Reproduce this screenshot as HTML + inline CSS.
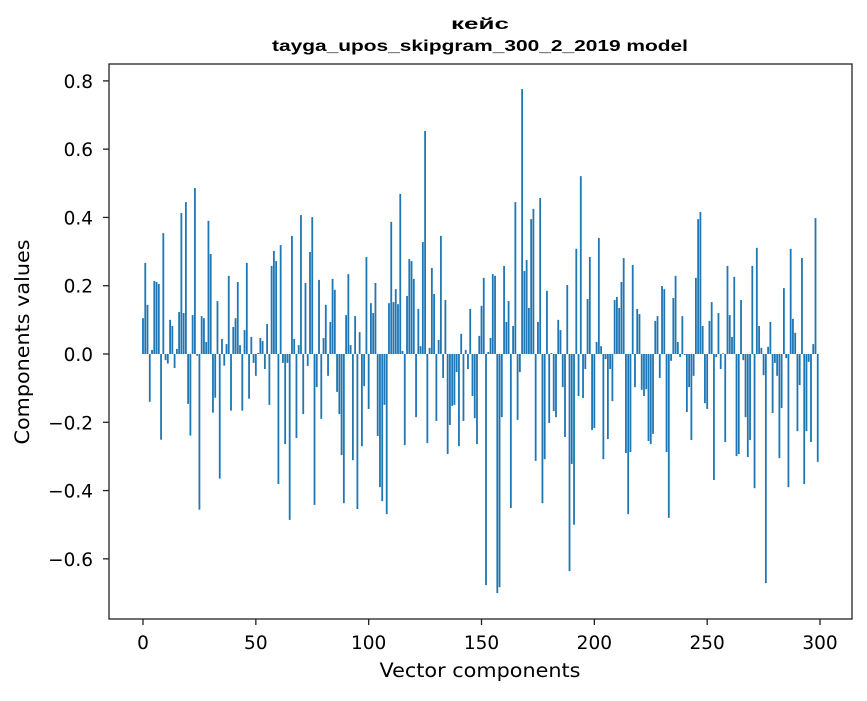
<!DOCTYPE html>
<html><head><meta charset="utf-8"><style>
body{margin:0;background:#fff;}
svg text{font-family:"DejaVu Sans","Liberation Sans",sans-serif;fill:#000;}
svg text.title{font-family:"Liberation Sans","DejaVu Sans",sans-serif;font-weight:bold;}
</style></head><body>
<svg id="chart" width="867" height="696" xmlns="http://www.w3.org/2000/svg">
<text class="title" x="480" y="29" font-size="16" text-anchor="middle" textLength="58" lengthAdjust="spacingAndGlyphs">кейс</text>
<text class="title" x="480" y="51" font-size="16" text-anchor="middle" textLength="416" lengthAdjust="spacingAndGlyphs">tayga_upos_skipgram_300_2_2019 model</text>
<g id="bars"></g>
<g id="axes"></g>
<text x="480" y="677" font-size="19.5" text-anchor="middle" textLength="201" lengthAdjust="spacingAndGlyphs">Vector components</text>
<text transform="translate(29,342) rotate(-90)" font-size="19.5" text-anchor="middle" textLength="205" lengthAdjust="spacingAndGlyphs">Components values</text>
</svg>
<script>
const values = [
0.105,0.267,0.144,-0.14,0.012,0.214,0.211,0.205,-0.251,0.354,
-0.018,-0.028,0.10,0.082,-0.041,0.015,0.123,0.413,0.12,0.445,
-0.146,-0.239,0.114,0.486,-0.005,-0.456,0.111,0.105,0.035,0.39,
0.293,-0.172,-0.128,0.155,-0.365,0.044,-0.034,0.029,0.229,-0.166,
0.079,0.105,0.211,0.026,-0.166,0.07,0.267,-0.131,0.05,-0.026,
-0.064,0.003,0.047,0.038,-0.044,0.088,-0.149,0.258,0.302,0.272,
-0.381,0.319,-0.026,-0.264,-0.026,-0.486,0.346,0.044,-0.246,0.026,
0.407,-0.176,0.208,-0.035,0.299,0.401,-0.442,-0.097,0.217,-0.19,
0.047,0.144,-0.064,0.094,0.22,0.188,-0.111,-0.176,-0.296,-0.437,
0.114,0.234,0.026,-0.311,0.111,-0.454,0.064,-0.27,-0.094,0.284,
-0.161,0.149,0.12,0.208,-0.24,-0.39,-0.431,-0.149,-0.469,0.149,
0.387,0.152,0.19,0.146,0.469,0.009,-0.267,0.17,0.278,0.272,
0.22,-0.185,0.132,0.023,0.328,0.653,-0.261,0.018,0.252,0.176,
-0.196,0.041,0.346,-0.07,0.158,-0.293,-0.208,-0.152,-0.149,-0.053,
-0.27,0.059,-0.196,0.012,-0.044,0.132,-0.123,-0.188,-0.264,0.053,
0.141,0.223,-0.677,0.006,0.047,0.234,0.229,-0.70,-0.683,-0.185,
0.258,0.094,0.155,-0.451,0.082,0.445,-0.193,-0.053,0.776,0.243,
0.275,0.135,0.395,0.425,-0.313,0.094,0.457,-0.437,-0.308,0.185,
-0.202,0.003,-0.167,-0.185,0.10,0.07,-0.097,-0.243,0.202,-0.636,
-0.322,-0.50,0.308,-0.123,0.521,-0.129,-0.044,0.161,0.284,-0.223,
-0.217,0.035,0.34,0.023,-0.308,-0.015,-0.249,-0.044,-0.138,0.158,
0.167,0.135,0.211,0.281,-0.29,-0.469,-0.287,0.261,-0.097,0.132,
0.117,-0.105,-0.123,-0.103,-0.255,-0.264,-0.234,0.097,0.111,-0.07,
0.199,0.19,-0.287,-0.48,-0.02,0.164,0.229,0.035,-0.009,0.111,
-0.003,-0.17,-0.097,-0.252,-0.064,0.223,0.395,0.416,0.082,-0.144,
-0.161,0.097,0.152,-0.369,-0.009,0.12,-0.044,0.002,-0.258,0.258,
0.114,0.05,0.226,-0.299,-0.293,0.158,-0.018,-0.185,-0.302,-0.252,
0.258,-0.393,0.311,0.082,0.018,-0.062,-0.671,0.021,0.094,-0.173,
-0.026,-0.064,-0.305,-0.158,0.193,-0.012,-0.39,0.308,0.103,0.062,
-0.226,-0.091,0.281,-0.381,-0.226,-0.023,-0.258,0.029,0.398,-0.316
];
const xTicks = [0,50,100,150,200,250,300];
const yTicks = [-0.6,-0.4,-0.2,0.0,0.2,0.4,0.6,0.8];
const yTickLabels = ["\u22120.6","\u22120.4","\u22120.2","0.0","0.2","0.4","0.6","0.8"];

const NS="http://www.w3.org/2000/svg";
const L=109,R=852,T=64,B=619;
function xs(v){return 143+v*2.2567;}
function ys(v){return 354-v*341.4;}
const bars=document.getElementById('bars');
values.forEach((v,i)=>{
  const r=document.createElementNS(NS,'rect');
  const w=0.8*2.2567;
  r.setAttribute('x',xs(i)-w/2);
  r.setAttribute('width',w);
  r.setAttribute('y',Math.min(ys(v),ys(0)));
  r.setAttribute('height',Math.abs(ys(v)-ys(0)));
  r.setAttribute('fill','#1f77b4');
  
  
  bars.appendChild(r);
});
const ax=document.getElementById('axes');
const frame=document.createElementNS(NS,'rect');
frame.setAttribute('x',L);frame.setAttribute('y',T);
frame.setAttribute('width',R-L);frame.setAttribute('height',B-T);
frame.setAttribute('fill','none');frame.setAttribute('stroke','#222');frame.setAttribute('stroke-width','1.3');


ax.appendChild(frame);
xTicks.forEach(t=>{
  const l=document.createElementNS(NS,'line');
  l.setAttribute('x1',xs(t));l.setAttribute('x2',xs(t));l.setAttribute('y1',B);l.setAttribute('y2',B+6);
  l.setAttribute('stroke','#222');l.setAttribute('stroke-width','1.3');
  
  
  ax.appendChild(l);
  const tx=document.createElementNS(NS,'text');
  tx.setAttribute('x',xs(t));tx.setAttribute('y',649);tx.setAttribute('font-size','18.5');tx.setAttribute('text-anchor','middle');
  tx.textContent=t;
  
  
  ax.appendChild(tx);
});
yTicks.forEach((t,k)=>{
  const l=document.createElementNS(NS,'line');
  l.setAttribute('x1',L-6);l.setAttribute('x2',L);l.setAttribute('y1',ys(t));l.setAttribute('y2',ys(t));
  l.setAttribute('stroke','#222');l.setAttribute('stroke-width','1.3');
  
  
  ax.appendChild(l);
  const tx=document.createElementNS(NS,'text');
  tx.setAttribute('x',L-16);tx.setAttribute('y',ys(t)+7);tx.setAttribute('font-size','18.5');tx.setAttribute('text-anchor','end');
  tx.textContent=yTickLabels[k];
  
  
  ax.appendChild(tx);
});
</script>
</body></html>
